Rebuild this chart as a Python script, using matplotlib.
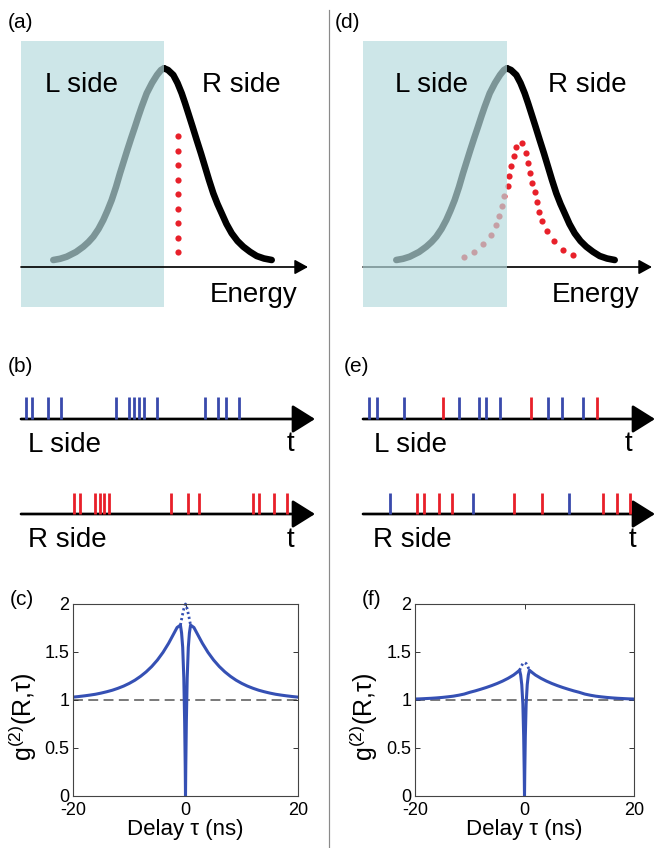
import numpy as np
import matplotlib
matplotlib.use("Agg")
import matplotlib.pyplot as plt
from matplotlib.patches import Rectangle

plt.rcParams['font.family'] = ['Liberation Sans', 'DejaVu Sans']
plt.rcParams['mathtext.fontset'] = 'custom'
plt.rcParams['mathtext.rm'] = 'Liberation Sans'
plt.rcParams['mathtext.it'] = 'Liberation Sans:italic'
plt.rcParams['axes.unicode_minus'] = False

# ---- data ----
# spectrum profile, offset from the peak (px) and height (px, down is larger)
GRAY_DX = [-110.7, -104, -97.3, -88, -80.7, -75.5, -70.7, -65.5, -60.7, -56.5, -52.3, -48, -44,
           -40.3, -36.7, -32.8, -29, -25.5, -22.3, -17.3, -12, -7, -3, 0]
GRAY_Y = [260, 258.8, 256.7, 252, 246.7, 242, 236.7, 229, 220, 210.5, 200, 187, 173.3,
          161.5, 150, 138, 126.7, 116, 106.7, 93.3, 83, 75, 70, 68.3]
BLACK_DX = [0, 4, 9.3, 13.5, 17.7, 21, 24.3, 28.5, 32.7, 37, 41, 45, 49.3, 53.5, 57.7,
            62.5, 67.7, 73.5, 79.3, 86, 92.7, 100, 107.7]
BLACK_Y = [68.3, 70, 75, 83, 93.3, 103, 113.3, 126.5, 140, 153.5, 166.7, 180, 193.3, 204, 213.3,
           224, 233.3, 241, 246.7, 251.8, 256, 258.5, 260]

# red emission dots
DOTS_A_X = [178] * 9
DOTS_A_Y = [136, 150.7, 165, 180, 194.3, 209, 223.3, 237.7, 252.3]
DOTS_D_X = [464.3, 474, 483.3, 490.7, 495.7, 499.3, 502, 504.3, 507.7, 509.3, 511, 513.7,
            516, 522, 525.7, 528.3, 530, 532.3, 534.7, 536.7, 538.7, 542, 547.3, 554, 563.3, 572.7]
DOTS_D_Y = [256.7, 252.3, 244.3, 235, 225, 215.7, 206, 196, 186, 176, 166, 156,
            147.3, 143.3, 153.3, 163.3, 173.3, 182.7, 192.3, 202, 211.7, 221, 230.7, 241, 250, 255]

# photon detection events (x positions, px)
B_L = [26, 31.7, 47.7, 61, 115.7, 129, 134.3, 139.3, 144, 157.3, 205, 218.3, 225.7, 239]
B_R = [74, 80, 95, 100, 104.3, 109.3, 170.7, 187.7, 199, 253.3, 259.3, 274, 287.3]
E_L = [369.3, 376.7, 404.3, 443.3, 459.3, 479.3, 486, 500, 530.7, 548.3, 562.3, 582.7, 596.7]
E_L_C = ['b', 'b', 'b', 'r', 'b', 'b', 'b', 'b', 'r', 'b', 'b', 'b', 'r']
E_R = [390.3, 417, 424.3, 438.7, 452, 472.7, 514.3, 542, 569.3, 603.3, 617, 630.3]
E_R_C = ['b', 'r', 'r', 'r', 'r', 'b', 'r', 'r', 'b', 'r', 'r', 'r']

# g2 curves
TAU = [-20, -19, -18, -17, -16, -15, -14, -13, -12, -11, -10, -9, -8, -7, -6, -5, -4, -3, -2, -1.5,
       -0.9, -0.7, -0.5, -0.3, -0.15, -0.05, 0, 0.05, 0.15, 0.3, 0.5, 0.7, 0.9,
       1.5, 2, 3, 4, 5, 6, 7, 8, 9, 10, 11, 12, 13, 14, 15, 16, 17, 18, 19, 20]
G2_C = [1.030, 1.036, 1.043, 1.051, 1.060, 1.072, 1.086, 1.102, 1.122, 1.145, 1.173, 1.206, 1.246,
        1.293, 1.349, 1.416, 1.496, 1.591, 1.700, 1.755,
        1.78, 1.70, 1.55, 1.23, 0.77, 0.31, 0.0, 0.31, 0.77, 1.23, 1.55, 1.70, 1.78,
        1.755, 1.700, 1.591, 1.496, 1.416, 1.349, 1.293, 1.246, 1.206, 1.173, 1.145, 1.122,
        1.102, 1.086, 1.072, 1.060, 1.051, 1.043, 1.036, 1.030]
G2_F = [1.010, 1.012, 1.015, 1.018, 1.022, 1.027, 1.033, 1.040, 1.050, 1.062, 1.080, 1.095, 1.112,
        1.130, 1.150, 1.172, 1.197, 1.226, 1.260, 1.282,
        1.31, 1.26, 1.16, 0.96, 0.62, 0.25, 0.0, 0.25, 0.62, 0.96, 1.16, 1.26, 1.31,
        1.282, 1.260, 1.226, 1.197, 1.172, 1.150, 1.130, 1.112, 1.095, 1.080, 1.062, 1.050,
        1.040, 1.033, 1.027, 1.022, 1.018, 1.015, 1.012, 1.010]
TAU_DOT = [-0.9, -0.6, -0.3, 0, 0.3, 0.6, 0.9]
DOT_C = [1.78, 1.87, 1.95, 2.0, 1.95, 1.87, 1.78]
DOT_F = [1.31, 1.35, 1.38, 1.39, 1.38, 1.35, 1.31]

XTICKS = [-20, 0, 20]
YTICKS = [0, 0.5, 1, 1.5, 2]
YTICKLABELS = ['0', '0.5', '1', '1.5', '2']

BLUE = '#3a4aac'
RED = '#e8202a'
CURVE_BLUE = '#3550b4'
SHADE = (182/255, 219/255, 222/255)
PX = 0.72  # points per pixel

fig = plt.figure(figsize=(6.56, 8.48), dpi=100)
cv = fig.add_axes([0, 0, 1, 1])
cv.set_xlim(0, 656)
cv.set_ylim(848, 0)
cv.axis('off')

# separator
cv.plot([329, 329], [10, 848], color='#8a8a8a', lw=1.2 * PX)


def arrow(x0, x1, y, lw, scale, z, hw=0.22):
    cv.annotate('', xy=(x1, y), xytext=(x0, y),
                arrowprops=dict(arrowstyle='-|>,head_length=0.4,head_width=%g' % hw,
                                color='black', lw=lw, mutation_scale=scale,
                                shrinkA=0, shrinkB=0), zorder=z)


def energy_panel(left, peak, tip, dx, dy, lab, lab_x, lx, rx, ex, axis_z):
    cv.plot(np.array(GRAY_DX) + peak, GRAY_Y, color='black', lw=6.6 * PX,
            solid_capstyle='round', solid_joinstyle='round', zorder=2)
    cv.plot(np.array(BLACK_DX) + peak, BLACK_Y, color='black', lw=6.6 * PX,
            solid_capstyle='round', solid_joinstyle='round', zorder=2)
    cv.plot(dx, dy, 'o', color=RED, ms=6.2 * PX, mec='none', zorder=3)
    arrow(left, tip, 267, 1.7 * PX, 20, axis_z)
    cv.add_patch(Rectangle((left, 41), peak - left, 266, facecolor=SHADE,
                           alpha=0.686, edgecolor='none', zorder=4))
    cv.text(lab_x, 28, lab, fontsize=15, zorder=6)
    cv.text(lx, 92, 'L side', fontsize=20, zorder=6)
    cv.text(rx, 92, 'R side', fontsize=20, zorder=6)
    cv.text(ex, 302, 'Energy', fontsize=20, zorder=6)


energy_panel(21, 164, 308, DOTS_A_X, DOTS_A_Y, '(a)', 8, 45, 202, 210, 5)
energy_panel(363, 507, 652, DOTS_D_X, DOTS_D_Y, '(d)', 335, 395, 548, 552, 3)


def events(xs, cols, y, h):
    c = [BLUE if k == 'b' else RED for k in cols]
    cv.vlines(xs, y - h, y, colors=c, lw=2.8 * PX, zorder=3)


# (b)
cv.text(8, 372, '(b)', fontsize=15)
events(B_L, ['b'] * len(B_L), 419, 22)
events(B_R, ['r'] * len(B_R), 514, 21)
arrow(21, 315, 419, 2.7 * PX, 35, 2, 0.25)
arrow(21, 315, 514, 2.7 * PX, 35, 2, 0.25)
cv.text(28, 452, 'L side', fontsize=20)
cv.text(287, 451, 't', fontsize=20)
cv.text(28, 547, 'R side', fontsize=20)
cv.text(287, 547, 't', fontsize=20)

# (e)
cv.text(344, 372, '(e)', fontsize=15)
events(E_L, E_L_C, 419, 22)
events(E_R, E_R_C, 514, 21)
arrow(363, 655, 419, 2.7 * PX, 35, 2, 0.25)
arrow(363, 655, 514, 2.7 * PX, 35, 2, 0.25)
cv.text(374, 452, 'L side', fontsize=20)
cv.text(625, 451, 't', fontsize=20)
cv.text(373, 547, 'R side', fontsize=20)
cv.text(629, 547, 't', fontsize=20)

cv.text(10, 605, '(c)', fontsize=15)
cv.text(362, 605, '(f)', fontsize=15)


def g2_panel(rect, g2, dots, ylab_x):
    ax = fig.add_axes(rect)
    ax.axhline(1, color='#555555', lw=1.1, ls=(0, (6.5, 3.5)), zorder=1)
    ax.plot(TAU, g2, color=CURVE_BLUE, lw=2.2, solid_joinstyle='round', zorder=2)
    ax.plot(TAU_DOT, dots, color=CURVE_BLUE, lw=2.0, ls=(0, (0.8, 1.0)),
            zorder=2, clip_on=False)
    ax.set_xlim(-20, 20)
    ax.set_ylim(0, 2)
    ax.set_xticks(XTICKS)
    ax.set_yticks(YTICKS)
    ax.set_yticklabels(YTICKLABELS)
    ax.tick_params(direction='in', length=3.6, width=0.7, top=True, right=True,
                   labelsize=13, colors='#333333', labelcolor='black')
    ax.tick_params(axis='x', pad=4)
    ax.tick_params(axis='y', pad=2.5)
    for s in ax.spines.values():
        s.set_color('#444444')
        s.set_linewidth(0.8)
    ax.set_xlabel('Delay τ (ns)', fontsize=16, labelpad=0)
    ax.set_ylabel(r'g$^{(2)}$(R,τ)', fontsize=18)
    ax.yaxis.set_label_coords(ylab_x, 0.41)
    return ax


g2_panel([73/656, 52/848, 225/656, 192/848], G2_C, DOT_C, -0.15)
g2_panel([415/656, 52/848, 219/656, 192/848], G2_F, DOT_F, -0.16)

fig.savefig('out.png', dpi=100)
